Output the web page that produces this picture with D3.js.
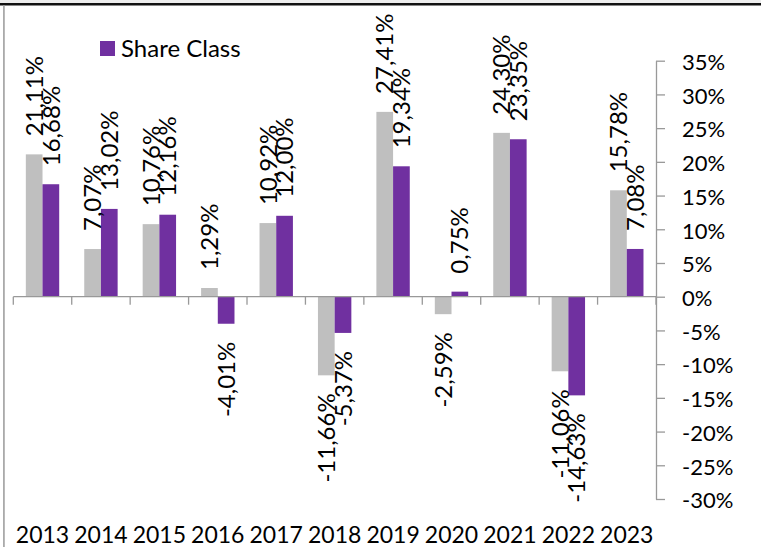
<!DOCTYPE html>
<meta charset="utf-8">
<head>
    <title>Annual Performance - Share Class</title>
    <script src="https://cdn.jsdelivr.net/npm/d3@7"></script>
    <style>
        body { margin: 0; background: #fff; }
        text { font-family: Lato, "Open Sans", sans-serif; fill: #000; }
    </style>
</head>
<body>
<svg id="chart"></svg>
<script>
    // chart values
    var years = ["2013", "2014", "2015", "2016", "2017", "2018", "2019", "2020", "2021", "2022", "2023"];
    var fundReturns = [21.11, 7.07, 10.76, 1.29, 10.92, -11.66, 27.41, -2.59, 24.30, -11.06, 15.78];
    var shareClassReturns = [16.68, 13.02, 12.16, -4.01, 12.00, -5.37, 19.34, 0.75, 23.35, -14.63, 7.08];
    var seriesNames = ["Benchmark", "Share Class"];
    var yTicks = [35, 30, 25, 20, 15, 10, 5, 0, -5, -10, -15, -20, -25, -30];

    var width = 761, height = 547;
    var plot = { left: 13.3, right: 656, top: 60.7, bottom: 499 };
    var colors = ["#bfbfbf", "#7030a0"];

    var svg = d3.select("#chart")
        .attr("width", width)
        .attr("height", height);

    // frame: light strip, dark top rule, grey left rule
    svg.append("rect").attr("x", 0).attr("y", 0).attr("width", width).attr("height", 3).attr("fill", "#ededed");
    svg.append("rect").attr("x", 0).attr("y", 3).attr("width", width).attr("height", 2.5).attr("fill", "#111");
    svg.append("rect").attr("x", 3).attr("y", 5.5).attr("width", 1.8).attr("height", height).attr("fill", "#aaa");

    var y = d3.scaleLinear().domain([-30, 35]).range([plot.bottom, plot.top]);
    var x0 = d3.scaleBand().domain(years).range([plot.left, plot.right]);
    var x1 = d3.scaleBand().domain(seriesNames).range([0, x0.bandwidth()])
        .paddingInner(0).paddingOuter(0.75);

    var rows = years.map(function(yr, i) {
        return { year: yr, values: [fundReturns[i], shareClassReturns[i]] };
    });

    // bars
    var groups = svg.append("g").selectAll("g")
        .data(rows)
        .enter().append("g")
        .attr("transform", function(d) { return "translate(" + x0(d.year) + ",0)"; });

    groups.selectAll("rect")
        .data(function(d) { return d.values.map(function(v, j) { return { name: seriesNames[j], value: v, j: j }; }); })
        .enter().append("rect")
        .attr("x", function(d) { return x1(d.name); })
        .attr("width", x1.bandwidth())
        .attr("y", function(d) { return y(Math.max(0, d.value)); })
        .attr("height", function(d) { return Math.abs(y(d.value) - y(0)); })
        .attr("fill", function(d) { return colors[d.j]; });

    // x axis line + boundary ticks
    var xAxis = svg.append("g");
    xAxis.append("line")
        .attr("x1", plot.left).attr("x2", plot.right)
        .attr("y1", y(0)).attr("y2", y(0))
        .attr("stroke", "#999").attr("stroke-width", 1.3);
    var bounds = years.map(function(d) { return x0(d); }).concat([plot.right]);
    xAxis.selectAll("line.tick")
        .data(bounds)
        .enter().append("line")
        .attr("class", "tick")
        .attr("x1", function(d) { return d; }).attr("x2", function(d) { return d; })
        .attr("y1", y(0)).attr("y2", y(0) + 8)
        .attr("stroke", "#999").attr("stroke-width", 1.3);

    // category labels at the bottom
    svg.append("g").selectAll("text")
        .data(years)
        .enter().append("text")
        .attr("x", function(d) { return x0(d) + x0.bandwidth() / 2; })
        .attr("y", 543)
        .attr("text-anchor", "middle")
        .style("font-size", "23px")
        .text(function(d) { return d; });

    // y axis on the right
    var yAxis = d3.axisRight(y)
        .tickValues(yTicks)
        .tickSize(9)
        .tickSizeOuter(0)
        .tickPadding(17)
        .tickFormat(function(d) { return d + "%"; });

    var yG = svg.append("g")
        .attr("transform", "translate(" + plot.right + ",0)")
        .call(yAxis);
    yG.select(".domain").attr("stroke", "#999").attr("stroke-width", 1.3);
    yG.selectAll(".tick line").attr("stroke", "#999").attr("stroke-width", 1.3);
    yG.selectAll(".tick text")
        .attr("font-family", null)
        .style("font-size", "22px")
        .attr("dy", "0.4em");

    // value labels, rotated
    groups.selectAll("text")
        .data(function(d) { return d.values.map(function(v, j) { return { name: seriesNames[j], value: v }; }); })
        .enter().append("text")
        .attr("transform", function(d) {
            var cx = x1(d.name) + x1.bandwidth() / 2;
            var cy = d.value >= 0 ? y(d.value) - 18 : y(d.value) + 18;
            return "translate(" + cx + "," + cy + ") rotate(-90)";
        })
        .attr("text-anchor", function(d) { return d.value >= 0 ? "start" : "end"; })
        .attr("dy", "0.36em")
        .style("font-size", "24px")
        .text(function(d) { return d.value.toFixed(2).replace(".", ",") + "%"; });

    // legend (only share class shown)
    var legend = svg.append("g").attr("transform", "translate(100,41)");
    legend.append("rect").attr("width", 15).attr("height", 15).attr("fill", colors[1]);
    legend.append("text").attr("x", 21).attr("y", 15.5)
        .style("font-size", "24px")
        .text(seriesNames[1]);
</script>
</body>
